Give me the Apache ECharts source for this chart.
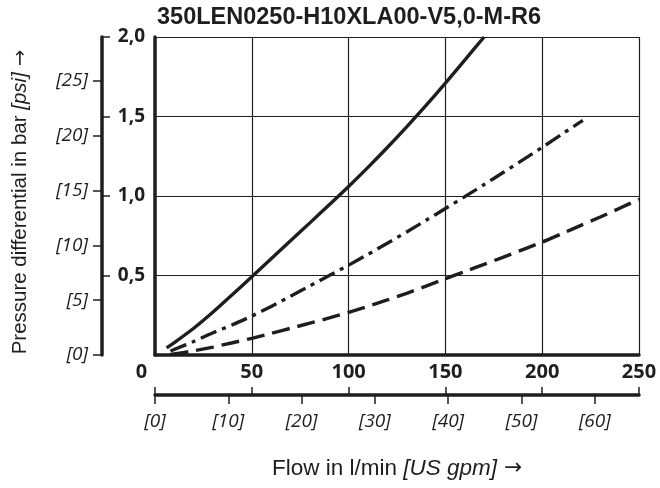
<!DOCTYPE html>
<html><head><meta charset="utf-8">
<script src="https://cdn.jsdelivr.net/npm/echarts@6/dist/echarts.min.js"></script>
<style>html,body{margin:0;padding:0;background:#fff}#c{width:660px;height:488px}</style>
</head><body><div id="c"></div>
<script>
const chartTitle = '350LEN0250-H10XLA00-V5,0-M-R6';
const xName = 'Flow in l/min ';
const xNameUnit = '[US gpm]';
const yName = 'Pressure differential in bar ';
const yNameUnit = '[psi]';
const barTicks = [0.5, 1.0, 1.5, 2.0];
const psiTicks = [0, 5, 10, 15, 20, 25];
const gpmTicks = [0, 10, 20, 30, 40, 50, 60];
const BAR_TO_PSI = 14.5038;
const GPM_TO_LPM = 3.78541;

// [flow l/min, pressure bar]
const solidCurve = [[6,0.045],[10,0.078],[20,0.168],[30,0.27],[40,0.38],[50,0.492],[60,0.605],[70,0.718],[80,0.831],[90,0.945],[100,1.06],[110,1.18],[120,1.305],[130,1.435],[140,1.57],[150,1.71],[160,1.855],[170,2.0]];
const dashDotCurve = [[8,0.025],[20,0.085],[30,0.14],[40,0.19],[50,0.245],[60,0.305],[70,0.37],[80,0.435],[90,0.5],[100,0.565],[110,0.633],[120,0.703],[130,0.774],[140,0.847],[150,0.921],[160,0.996],[170,1.072],[180,1.149],[190,1.227],[200,1.306],[210,1.387],[221,1.476]];
const dashedCurve = [[8,0.003],[20,0.026],[30,0.05],[40,0.077],[50,0.105],[60,0.136],[70,0.168],[80,0.2],[90,0.233],[100,0.268],[110,0.306],[120,0.346],[130,0.388],[140,0.433],[150,0.48],[160,0.525],[170,0.57],[180,0.616],[190,0.663],[200,0.71],[210,0.762],[220,0.815],[230,0.868],[240,0.923],[250,0.979]];

const INK = '#1e1e1e';
const labelFont = 'Open Sans';
const nameFont = 'Liberation Sans';

const chart = echarts.init(document.getElementById('c'), null, {renderer: 'canvas'});
const lineSeries = (data, type) => ({
  type: 'line', data, showSymbol: false, symbol: 'none', smooth: 0.25,
  xAxisIndex: 0, yAxisIndex: 0, clip: true,
  lineStyle: {color: INK, width: 3.4, type, cap: 'butt'}
});
const nameRich = size => ({
  n: {fontFamily: nameFont, fontSize: size, color: INK},
  i: {fontFamily: nameFont, fontSize: size, fontStyle: 'italic', color: INK},
  a: {fontFamily: 'DejaVu Sans', fontSize: size - 1, color: INK}
});
chart.setOption({
  animation: false,
  backgroundColor: '#fff',
  title: {
    text: chartTitle, left: 152, top: 1,
    textStyle: {fontFamily: nameFont, fontWeight: 'bold', fontSize: 23.5, color: INK}
  },
  grid: {left: 155, right: 21, top: 37, bottom: 133, containLabel: false},
  xAxis: [
    {
      type: 'value', min: 0, max: 250, interval: 50, position: 'bottom',
      axisLine: {show: true, onZero: false, lineStyle: {color: INK, width: 3.5}},
      axisTick: {show: false},
      splitLine: {show: true, lineStyle: {color: INK, width: 1.2}},
      axisLabel: {
        margin: 7, color: INK, fontFamily: labelFont, fontWeight: 'bold', fontSize: 20,
        formatter: v => v === 0 ? '{z|0}' : String(v),
        rich: {z: {padding: [0, 27, 0, 0], fontFamily: labelFont, fontWeight: 'bold', fontSize: 20, color: INK}}
      },
      name: '{n|' + xName + '}{i|' + xNameUnit + '}{a| →}',
      nameLocation: 'middle', nameGap: 102,
      nameTextStyle: {rich: nameRich(22.5)}
    },
    {
      type: 'value', min: 0, max: 250, interval: 50, position: 'bottom', offset: 40,
      axisLine: {show: true, onZero: false, lineStyle: {color: INK, width: 3.5}},
      axisTick: {show: true, inside: true, length: 8, lineStyle: {color: INK, width: 1.5}},
      axisLabel: {show: false}, splitLine: {show: false}
    },
    {
      type: 'value', min: 0, max: 250 / GPM_TO_LPM, position: 'bottom', offset: 40,
      axisLine: {show: false, onZero: false},
      axisTick: {show: true, customValues: gpmTicks, length: 9, lineStyle: {color: INK, width: 1.5}},
      axisLabel: {
        customValues: gpmTicks, margin: 17, color: INK, fontFamily: labelFont, fontStyle: 'italic', fontSize: 19,
        formatter: v => '[' + v + ']'
      },
      splitLine: {show: false}
    }
  ],
  yAxis: [
    {
      type: 'value', min: 0, max: 2, interval: 0.5, position: 'left',
      axisLine: {show: true, onZero: false, lineStyle: {color: INK, width: 3.5}},
      axisTick: {show: false},
      splitLine: {show: true, lineStyle: {color: INK, width: 1.2}},
      axisLabel: {
        margin: 10, color: INK, fontFamily: labelFont, fontWeight: 'bold', fontSize: 19,
        formatter: v => v === 0 ? '' : v.toFixed(1).replace('.', ',')
      }
    },
    {
      type: 'value', min: 0, max: 2, interval: 0.5, position: 'left', offset: 53,
      axisLine: {show: true, onZero: false, lineStyle: {color: INK, width: 3.5}},
      axisTick: {show: true, inside: true, length: 8, customValues: barTicks, lineStyle: {color: INK, width: 1.5}},
      axisLabel: {show: false}, splitLine: {show: false},
      name: '{n|' + yName + '}{i|' + yNameUnit + '}{a| →}',
      nameLocation: 'middle', nameGap: 71,
      nameTextStyle: {padding: [0, 12, 0, 0], rich: nameRich(20.5)}
    },
    {
      type: 'value', min: 0, max: 2 * BAR_TO_PSI, position: 'left', offset: 53,
      axisLine: {show: false, onZero: false},
      axisTick: {show: true, customValues: psiTicks, length: 9, lineStyle: {color: INK, width: 1.5}},
      axisLabel: {
        customValues: psiTicks, margin: 14, color: INK, fontFamily: labelFont, fontStyle: 'italic', fontSize: 19,
        formatter: v => '[' + v + ']'
      },
      splitLine: {show: false}
    }
  ],
  series: [
    lineSeries(solidCurve, 'solid'),
    lineSeries(dashDotCurve, [17, 6, 4, 6]),
    lineSeries(dashedCurve, [18, 8])
  ]
});
</script>
</body></html>
